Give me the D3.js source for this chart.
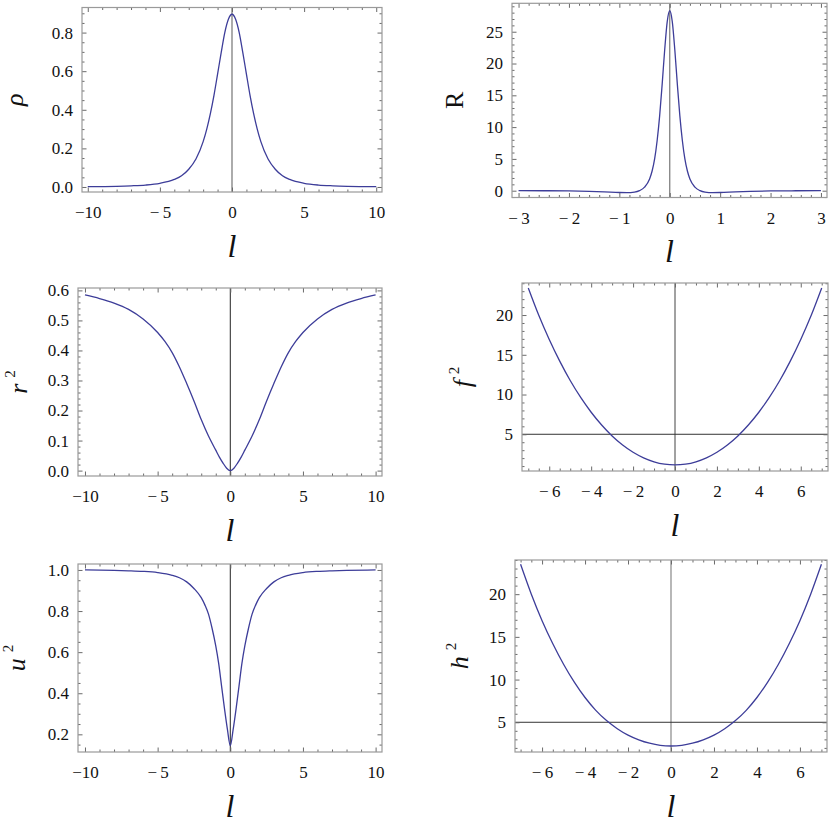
<!DOCTYPE html>
<html>
<head>
<meta charset="utf-8">
<script src="https://cdn.jsdelivr.net/npm/d3@7"></script>
<style>
  body { margin: 0; background: #fff; }
  svg text { font-family: "Liberation Serif", "Times New Roman", serif; fill: #111; }
</style>
</head>
<body>
<svg id="fig" width="830" height="825"></svg>
<script>
// values, panel by panel
const rhoL = [-10, -8, -7, -6, -5, -4, -3.5, -3, -2.5, -2, -1.75, -1.5, -1.25, -1, -0.75, -0.5, -0.25, 0,
  0.25, 0.5, 0.75, 1, 1.25, 1.5, 1.75, 2, 2.5, 3, 3.5, 4, 5, 6, 7, 8, 10];
const rhoV = [0.0015, 0.0035, 0.006, 0.010, 0.019, 0.039, 0.058, 0.092, 0.145, 0.235, 0.30, 0.38, 0.475, 0.585, 0.696, 0.80, 0.869, 0.895,
  0.869, 0.80, 0.696, 0.585, 0.475, 0.38, 0.30, 0.235, 0.145, 0.092, 0.058, 0.039, 0.019, 0.010, 0.006, 0.0035, 0.0015];

const ricciL = [-3, -2.5, -2, -1.6, -1.3, -1, -0.85, -0.7, -0.6, -0.5, -0.4, -0.35, -0.3, -0.25, -0.2, -0.15, -0.1, -0.05, 0,
  0.05, 0.1, 0.15, 0.2, 0.25, 0.3, 0.35, 0.4, 0.5, 0.6, 0.7, 0.85, 1, 1.3, 1.6, 2, 2.5, 3];
const ricciV = [0, -0.01, -0.04, -0.1, -0.18, -0.28, -0.3, -0.22, 0, 0.55, 1.85, 3.1, 5.0, 7.9, 11.8, 16.8, 22.2, 26.6, 28.3,
  26.6, 22.2, 16.8, 11.8, 7.9, 5.0, 3.1, 1.85, 0.55, 0, -0.22, -0.3, -0.28, -0.18, -0.1, -0.04, -0.01, 0];

const r2L = [-10, -9, -8, -7, -6, -5, -4.5, -4, -3.5, -3, -2.5, -2, -1.5, -1, -0.75, -0.5, -0.25, 0,
  0.25, 0.5, 0.75, 1, 1.5, 2, 2.5, 3, 3.5, 4, 4.5, 5, 6, 7, 8, 9, 10];
const r2V = [0.585, 0.573, 0.558, 0.537, 0.505, 0.46, 0.43, 0.393, 0.345, 0.29, 0.232, 0.17, 0.115, 0.068, 0.045, 0.025, 0.008, 0,
  0.008, 0.025, 0.045, 0.068, 0.115, 0.17, 0.232, 0.29, 0.345, 0.393, 0.43, 0.46, 0.505, 0.537, 0.558, 0.573, 0.585];

const f2L = [-7, -6.5, -6, -5.5, -5, -4.5, -4, -3.5, -3, -2.5, -2, -1.5, -1, -0.5, 0,
  0.5, 1, 1.5, 2, 2.5, 3, 3.5, 4, 4.5, 5, 5.5, 6, 6.5, 7];
const f2V = [23.39, 19.96, 16.92, 14.2, 11.76, 9.63, 7.77, 6.16, 4.79, 3.65, 2.74, 2.04, 1.54, 1.24, 1.14,
  1.24, 1.54, 2.04, 2.74, 3.65, 4.79, 6.16, 7.77, 9.63, 11.76, 14.2, 16.92, 19.96, 23.39];

const u2L = [-10, -8, -7, -6, -5, -4, -3.5, -3, -2.5, -2, -1.75, -1.5, -1.25, -1, -0.8, -0.6, -0.4, -0.2, 0,
  0.2, 0.4, 0.6, 0.8, 1, 1.25, 1.5, 1.75, 2, 2.5, 3, 3.5, 4, 5, 6, 7, 8, 10];
const u2V = [1.0, 0.998, 0.996, 0.993, 0.987, 0.974, 0.962, 0.942, 0.91, 0.865, 0.83, 0.785, 0.715, 0.63, 0.545, 0.435, 0.325, 0.225, 0.145,
  0.225, 0.325, 0.435, 0.545, 0.63, 0.715, 0.785, 0.83, 0.865, 0.91, 0.942, 0.962, 0.974, 0.987, 0.993, 0.996, 0.998, 1.0];

const h2L = [-7, -6.5, -6, -5.5, -5, -4.5, -4, -3.5, -3, -2.5, -2, -1.5, -1, -0.5, 0,
  0.5, 1, 1.5, 2, 2.5, 3, 3.5, 4, 4.5, 5, 5.5, 6, 6.5, 7];
const h2V = [23.5, 20.0, 16.9, 14.2, 11.8, 9.7, 7.9, 6.4, 5.2, 4.25, 3.5, 2.95, 2.55, 2.3, 2.22,
  2.3, 2.55, 2.95, 3.5, 4.25, 5.2, 6.4, 7.9, 9.7, 11.8, 14.2, 16.9, 20.0, 23.5];

// tick labels
const ticksX10 = [-10, -5, 0, 5, 10];
const ticksX3 = [-3, -2, -1, 0, 1, 2, 3];
const ticksX6 = [-6, -4, -2, 0, 2, 4, 6];
const ticksRho = [0, 0.2, 0.4, 0.6, 0.8];
const ticksRicci = [0, 5, 10, 15, 20, 25];
const ticksR2 = [0, 0.1, 0.2, 0.3, 0.4, 0.5, 0.6];
const ticksF2 = [5, 10, 15, 20];
const ticksU2 = [0.2, 0.4, 0.6, 0.8, 1.0];
const ticksH2 = [5, 10, 15, 20];

const curveColor = "#3d3d99";
const svg = d3.select("#fig");

const panels = [
  { l: rhoL, v: rhoV, box: [82, 7.5, 300, 184.5], xd: [-10.4, 10.4], yd: [-0.026, 0.93],
    xt: ticksX10, xm: 1, yt: ticksRho, ym: 0.05, yf: d3.format(".1f"),
    name: "ρ", italic: true, sup: false, labOff: 59, axisColor: "#888", axisW: 1.4 },
  { l: ricciL, v: ricciV, box: [512, 3.3, 315, 194.2], xd: [-3.13, 3.12], yd: [-1.07, 29.47],
    xt: ticksX3, xm: 0.2, yt: ticksRicci, ym: 1, yf: d3.format("d"),
    name: "R", italic: false, sup: false, labOff: 49, axisColor: "#777", axisW: 1.2 },
  { l: r2L, v: r2V, box: [78, 288, 304, 188], xd: [-10.48, 10.44], yd: [-0.018, 0.608],
    xt: ticksX10, xm: 1, yt: ticksR2, ym: 0.02, yf: d3.format(".1f"),
    name: "r", italic: true, sup: true, labOff: 51, axisColor: "#222", axisW: 1 },
  { l: f2L, v: f2V, box: [522, 283, 306, 188], xd: [-7.3, 7.3], yd: [0.38, 24.03],
    xt: ticksX6, xm: 0.5, yt: ticksF2, ym: 1, yf: d3.format("d"), hline: 5,
    name: "f", italic: true, sup: true, labOff: 51, axisColor: "#444", axisW: 1 },
  { l: u2L, v: u2V, box: [78, 564, 304, 188], xd: [-10.48, 10.44], yd: [0.114, 1.029],
    xt: ticksX10, xm: 1, yt: ticksU2, ym: 0.05, yf: d3.format(".1f"),
    name: "u", italic: true, sup: true, labOff: 53, axisColor: "#222", axisW: 1 },
  { l: h2L, v: h2V, box: [515, 560, 312, 192], xd: [-7.26, 7.26], yd: [1.52, 24.0],
    xt: ticksX6, xm: 0.5, yt: ticksH2, ym: 1, yf: d3.format("d"), hline: 5,
    name: "h", italic: true, sup: true, labOff: 47, axisColor: "#888", axisW: 1.2 }
];

function minorTicks(domain, step, majors) {
  const out = [];
  const i0 = Math.ceil(domain[0] / step - 1e-9), i1 = Math.floor(domain[1] / step + 1e-9);
  for (let i = i0; i <= i1; i++) {
    const t = +(i * step).toFixed(6);
    if (!majors.some(m => Math.abs(m - t) < 1e-6)) out.push(t);
  }
  return out;
}

function fmtX(d) {
  if (d < 0) return "\u2212" + (Math.abs(d) < 10 ? "\u2009" : "") + Math.abs(d);
  return String(d);
}

function drawPanel(p) {
  const [x0, y0, w, h] = p.box;
  const g = svg.append("g").attr("transform", `translate(${x0},${y0})`);
  const x = d3.scaleLinear().domain(p.xd).range([0, w]);
  const y = d3.scaleLinear().domain(p.yd).range([h, 0]);

  // axes through the origin (and the reference level)
  g.append("line")
    .attr("x1", x(0)).attr("x2", x(0)).attr("y1", 0).attr("y2", h)
    .attr("stroke", p.axisColor).attr("stroke-width", p.axisW);
  if (p.hline != null) {
    g.append("line")
      .attr("x1", 0).attr("x2", w).attr("y1", y(p.hline)).attr("y2", y(p.hline))
      .attr("stroke", "#333").attr("stroke-width", 1);
  }

  // curve
  const line = d3.line()
    .x(d => x(d[0]))
    .y(d => y(d[1]))
    .curve(d3.curveMonotoneX);
  g.append("path")
    .datum(d3.zip(p.l, p.v))
    .attr("d", line)
    .attr("fill", "none")
    .attr("stroke", curveColor)
    .attr("stroke-width", 1.3);

  // frame ticks, pointing inwards, on all four sides
  const xMinor = minorTicks(p.xd, p.xm, p.xt);
  const yMinor = minorTicks(p.yd, p.ym, p.yt);
  const sides = [
    [d3.axisBottom, x, `translate(0,${h})`, true],
    [d3.axisTop, x, "translate(0,0)", false],
    [d3.axisLeft, y, "translate(0,0)", true],
    [d3.axisRight, y, `translate(${w},0)`, false]
  ];
  sides.forEach(([axisFn, sc, tr, labelled]) => {
    const isX = sc === x;
    const major = axisFn(sc).tickValues(isX ? p.xt : p.yt).tickSize(-4.5)
      .tickPadding(isX ? 14 : 9)
      .tickFormat(labelled ? (isX ? fmtX : p.yf) : "");
    const minor = axisFn(sc).tickValues(isX ? xMinor : yMinor).tickSize(-2.5).tickFormat("");
    const gm = g.append("g").attr("transform", tr).call(minor);
    const gM = g.append("g").attr("transform", tr).call(major);
    [gm, gM].forEach(a => {
      a.select(".domain").remove();
      a.selectAll("line").attr("stroke", "#6a6a6a");
    });
    gM.selectAll("text").attr("font-size", 17).attr("fill", "#111")
      .style("font-family", '"Liberation Serif", serif');
  });

  // frame
  g.append("rect")
    .attr("x", 0).attr("y", 0).attr("width", w).attr("height", h)
    .attr("fill", "none").attr("stroke", "#9a9a9a").attr("stroke-width", 1.2);

  // x label
  g.append("text")
    .attr("x", w / 2).attr("y", h + 65)
    .attr("text-anchor", "middle")
    .attr("font-size", 32).attr("font-style", "italic")
    .text("l");

  // y label, rotated
  const cy = h / 2;
  const t = g.append("text")
    .attr("transform", `translate(${-p.labOff},${cy}) rotate(-90)`)
    .attr("text-anchor", "middle")
    .attr("font-size", 26);
  t.append("tspan").attr("font-style", p.italic ? "italic" : "normal").text(p.name);
  if (p.sup) {
    t.append("tspan").attr("dx", 6).attr("dy", -12).attr("font-size", 15).text("2");
  }
}

panels.forEach(drawPanel);
</script>
</body>
</html>
